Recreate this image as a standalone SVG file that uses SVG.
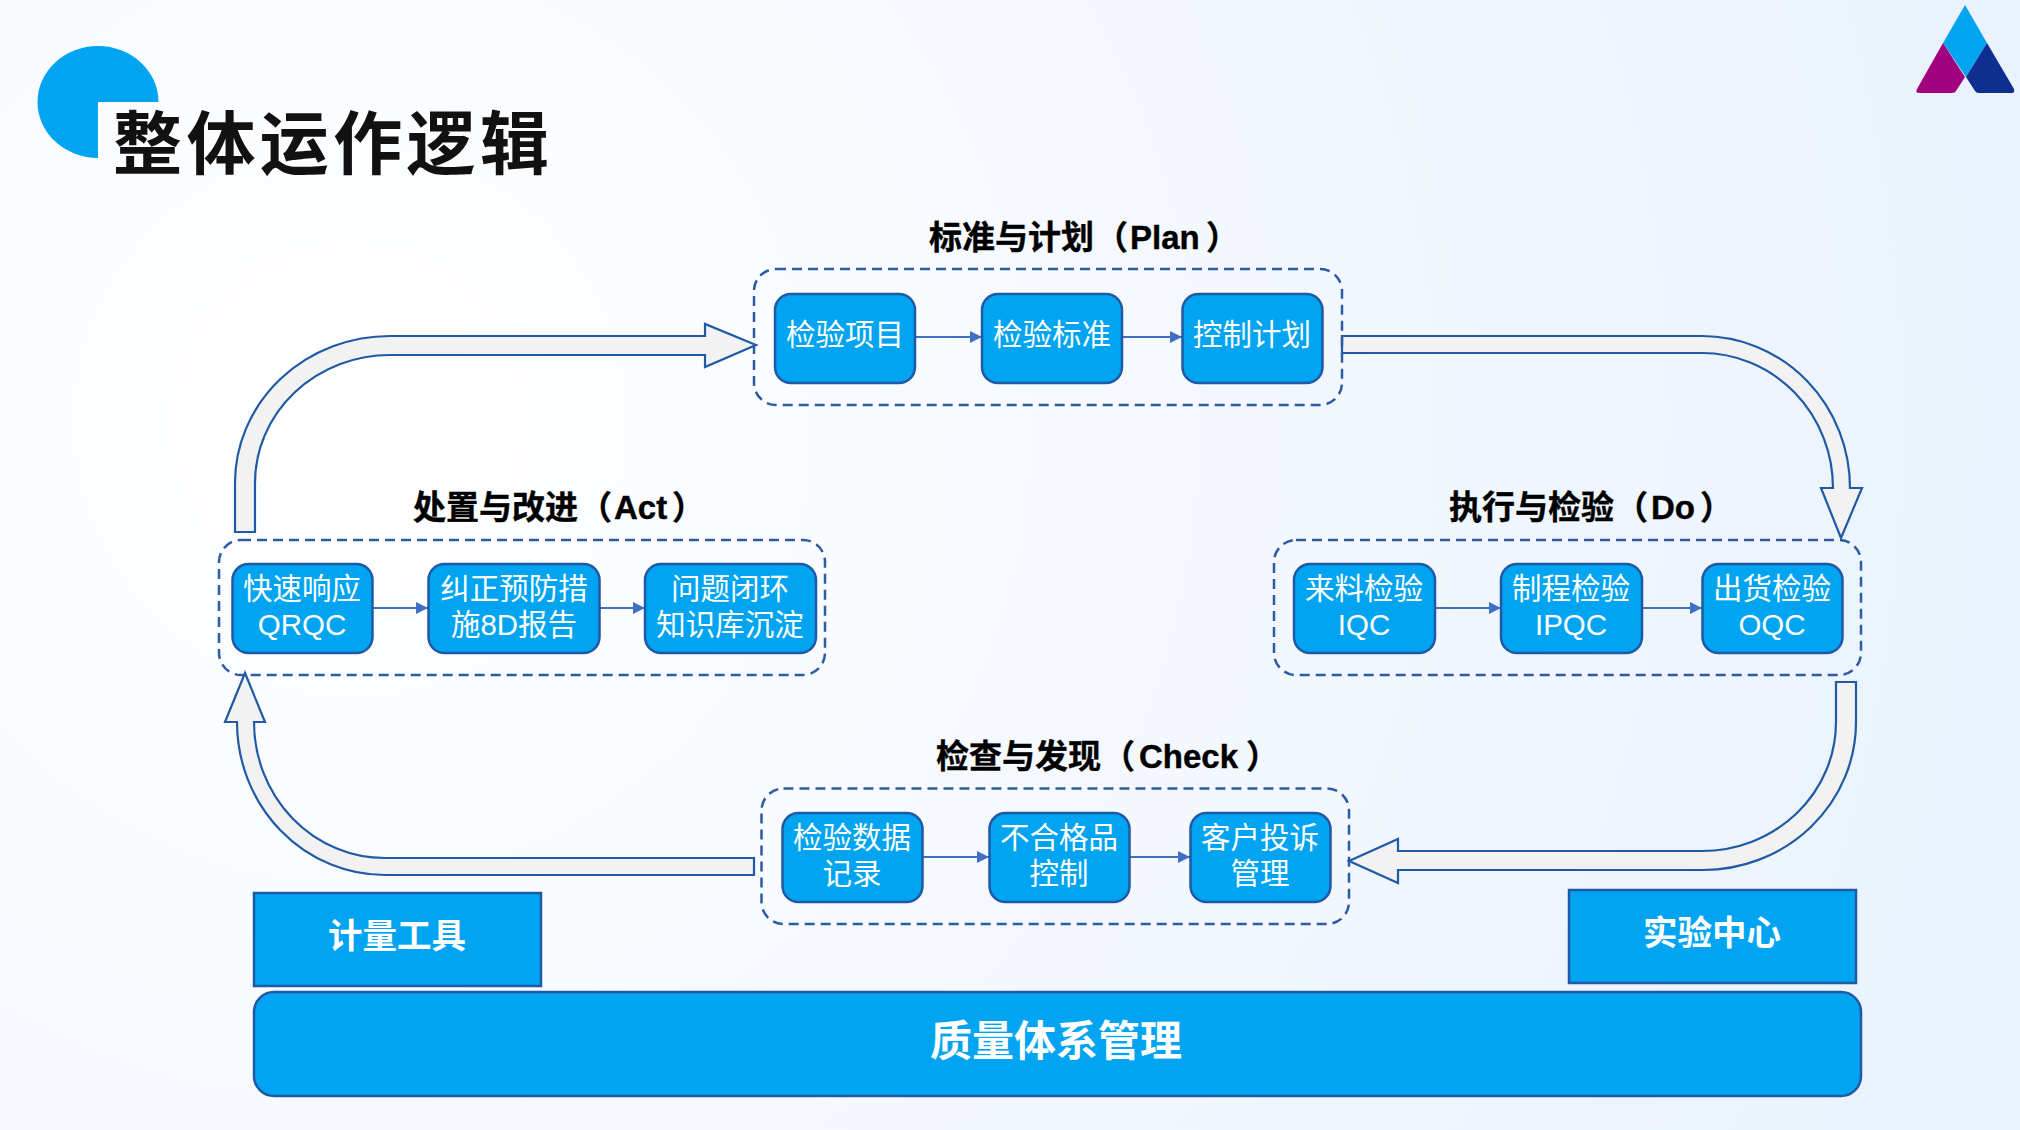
<svg xmlns="http://www.w3.org/2000/svg" width="2020" height="1130" viewBox="0 0 2020 1130">
<style>
text{font-family:"Liberation Sans","Noto Sans CJK SC",sans-serif}
.box{fill:#00a4f0;stroke:#2059a5;stroke-width:2.5}
.t{fill:#fff;font-size:29.500px;text-anchor:middle}
.tb{fill:#fff;font-size:34.500px;font-weight:700;text-anchor:middle}
.group{fill:none;stroke:#2d5ca3;stroke-width:2.5;stroke-dasharray:10 6}
.lab{fill:#000;stroke:#000;stroke-width:.4;font-size:33px;font-weight:700}
.line{fill:none;stroke:#3f70c4;stroke-width:2;marker-end:url(#ah)}
.block{fill:#f2f2f2;stroke:#1f5aa6;stroke-width:2.2;stroke-linejoin:miter}
</style>
<defs>
<radialGradient id="bg" gradientUnits="userSpaceOnUse" cx="350" cy="420" r="1750">
<stop offset="0" stop-color="#ffffff"/><stop offset="1" stop-color="#e9f2fd"/>
</radialGradient>
<marker id="ah" markerUnits="userSpaceOnUse" markerWidth="12" markerHeight="12" refX="12" refY="6" orient="auto"><path d="M0,0L12,6L0,12Z" fill="#3f70c4"/></marker>
</defs>
<rect width="2020" height="1130" fill="url(#bg)"/>
<g id="title">
<path d="M98,102H158.500A60.500,56 0 1 0 98,158Z" fill="#00a4f0"/>
<text x="113" y="169" font-size="69" font-weight="700" letter-spacing="4.400" fill="#111">整体运作逻辑</text>
</g>
<g id="logo">
<path d="M1965,5L1987,43L1966,77L1943,43Z" fill="#00a4ef"/>
<path d="M1943,43L1965,77L1956,91Q1955,93 1952,93H1919Q1915,93 1917,89Z" fill="#a1007f"/>
<path d="M1987,43L2014,89Q2015,93 2012,93H1979Q1976,93 1975,91L1966,77Z" fill="#0f2f8f"/>
</g>

<g id="connectors">
<path class="line" d="M915,337H982"/><path class="line" d="M1122,337H1182"/>
<path class="line" d="M1435,608H1501"/><path class="line" d="M1642,608H1702"/>
<path class="line" d="M373,608H428"/><path class="line" d="M600,608H645"/>
<path class="line" d="M922,857H989"/><path class="line" d="M1130,857H1190"/>
<path class="block" d="M1342,336H1702A148,152 0 0 1 1850,488H1862L1841,538L1821,488H1833A131,135 0 0 0 1702,353H1342Z"/>
<path class="block" d="M1836,682H1856V722A153,148 0 0 1 1702,870H1398V883L1349,861L1398,839V851H1702A134,129 0 0 0 1836,722Z"/>
<path class="block" d="M754,858V875H385A148,153 0 0 1 237,722H225L245,673L265,722H254A131,136 0 0 0 385,858Z"/>
<path class="block" d="M235,532V483A155,147 0 0 1 390,336H705V324L756,345L705,367V355H390A135,128 0 0 0 255,483V532Z"/>
</g>

<g id="plan">
<rect class="group" x="754" y="269" width="588" height="136" rx="22"/>
<text class="lab" x="929" y="249">标准与计划<tspan x="1095">（</tspan><tspan x="1130">Plan</tspan><tspan x="1206">）</tspan></text>
</g>
<g id="plan-1"><rect class="box" x="775" y="294" width="140" height="89" rx="16"/><text class="t" x="845" y="345">检验项目</text></g>
<g id="plan-2"><rect class="box" x="982" y="294" width="140" height="89" rx="16"/><text class="t" x="1052" y="345">检验标准</text></g>
<g id="plan-3"><rect class="box" x="1182.500" y="294" width="140" height="89" rx="16"/><text class="t" x="1252" y="345">控制计划</text></g>

<g id="do">
<rect class="group" x="1274" y="540" width="587" height="135" rx="22"/>
<text class="lab" x="1449" y="519">执行与检验<tspan x="1615">（</tspan><tspan x="1651">Do</tspan><tspan x="1700">）</tspan></text>
</g>
<g id="do-1"><rect class="box" x="1294" y="564" width="141" height="89" rx="16"/><text class="t" x="1364" y="599">来料检验</text><text class="t" x="1364" y="635">IQC</text></g>
<g id="do-2"><rect class="box" x="1501" y="564" width="141" height="89" rx="16"/><text class="t" x="1571" y="599">制程检验</text><text class="t" x="1571" y="635">IPQC</text></g>
<g id="do-3"><rect class="box" x="1702.500" y="564" width="140" height="89" rx="16"/><text class="t" x="1772" y="599">出货检验</text><text class="t" x="1772" y="635">OQC</text></g>

<g id="act">
<rect class="group" x="219" y="540" width="606" height="135" rx="22"/>
<text class="lab" x="413" y="519">处置与改进<tspan x="579">（</tspan><tspan x="614">Act</tspan><tspan x="672">）</tspan></text>
</g>
<g id="act-1"><rect class="box" x="232.500" y="564" width="140" height="89" rx="16"/><text class="t" x="302" y="599">快速响应</text><text class="t" x="302" y="635">QRQC</text></g>
<g id="act-2"><rect class="box" x="428.500" y="564" width="171" height="89" rx="16"/><text class="t" x="514" y="599">纠正预防措</text><text class="t" x="514" y="635">施8D报告</text></g>
<g id="act-3"><rect class="box" x="645" y="564" width="171" height="89" rx="16"/><text class="t" x="730" y="599">问题闭环</text><text class="t" x="730" y="635">知识库沉淀</text></g>

<g id="check">
<rect class="group" x="761.500" y="788.500" width="587.500" height="135.500" rx="22"/>
<text class="lab" x="936" y="768">检查与发现<tspan x="1102">（</tspan><tspan x="1139">Check</tspan><tspan x="1246">）</tspan></text>
</g>
<g id="check-1"><rect class="box" x="782.500" y="813" width="140" height="89" rx="16"/><text class="t" x="852" y="848">检验数据</text><text class="t" x="852" y="884">记录</text></g>
<g id="check-2"><rect class="box" x="989.500" y="813" width="140" height="89" rx="16"/><text class="t" x="1059" y="848">不合格品</text><text class="t" x="1059" y="884">控制</text></g>
<g id="check-3"><rect class="box" x="1190.500" y="813" width="140" height="89" rx="16"/><text class="t" x="1260" y="848">客户投诉</text><text class="t" x="1260" y="884">管理</text></g>

<g id="tools"><rect class="box" x="254" y="893" width="287" height="93"/><text class="tb" x="397" y="948">计量工具</text></g>
<g id="lab"><rect class="box" x="1569" y="890" width="287" height="93"/><text class="tb" x="1712" y="945">实验中心</text></g>
<g id="qms"><rect class="box" x="254" y="992" width="1607" height="104" rx="20"/><text class="tb" x="1056" y="1056" style="font-size:42px">质量体系管理</text></g>
</svg>
